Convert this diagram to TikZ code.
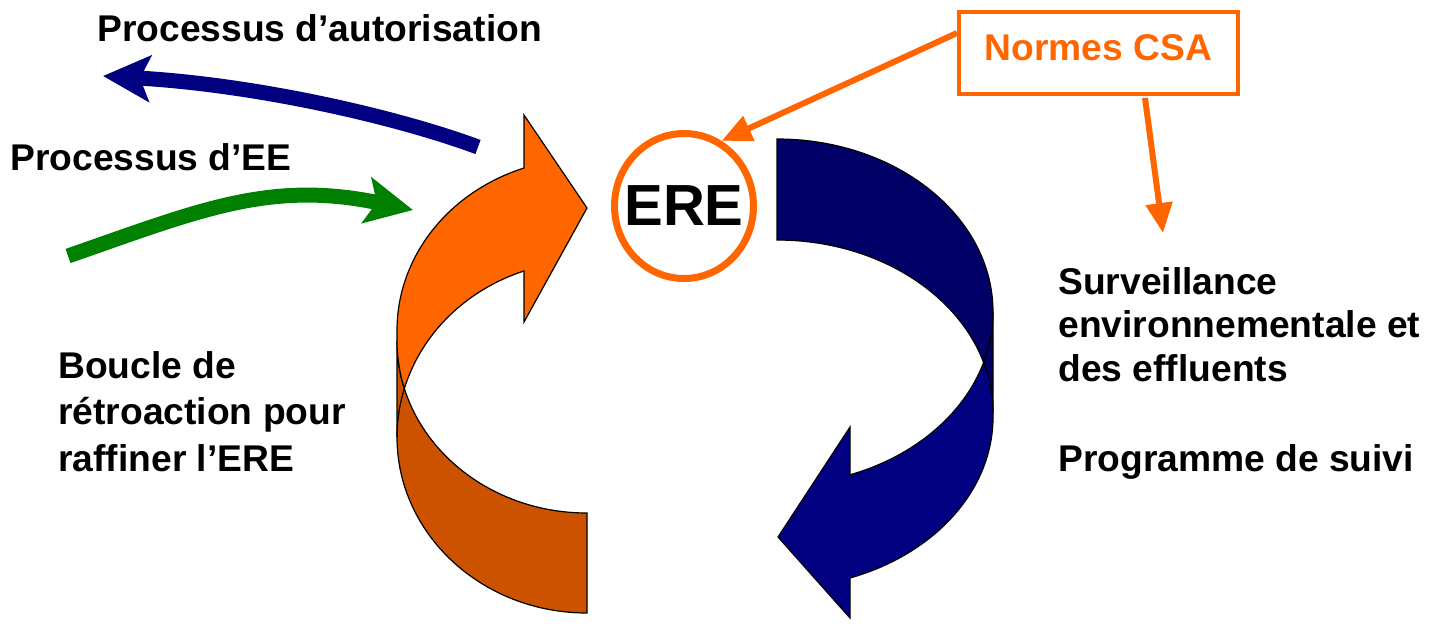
\documentclass[tikz,border=0pt]{standalone}
\usepackage{fontspec}
\setmainfont{Liberation Sans}
\usetikzlibrary{arrows.meta,shapes.geometric}
\definecolor{obright}{HTML}{FF6600}
\definecolor{odark}{HTML}{CC5200}
\definecolor{ndark}{HTML}{000066}
\definecolor{nlight}{HTML}{000080}
\definecolor{egreen}{HTML}{008000}
\begin{document}
\begin{tikzpicture}[x=0.5pt,y=0.5pt,
  lbl/.style={font=\fontsize{18.6pt}{21.75pt}\selectfont\bfseries, inner sep=0pt, anchor=base west, align=left},
  band/.style={draw=black, line width=0.6pt, line join=miter},
  thickarrow/.style={line width=7.5pt, -{Stealth[length=23.5pt,width=23pt,inset=5pt]}},
  csaarrow/.style={draw=obright, line width=3pt, -{Triangle[length=15pt,width=13pt]}}]
\useasboundingbox (0,0) rectangle (1439,-628);

% ---------- orange U-turn arrow (left) ----------
\coordinate (oc1) at (587,-330);
\coordinate (oc2) at (587,-437);
\coordinate (oc3) at (587,-341);
\filldraw[band, fill=odark] (587,-513)
  arc[start angle=270, end angle=180, x radius=190, y radius=172]
  -- (397,-437)
  arc[start angle=180, end angle=270, x radius=190, y radius=176]
  -- cycle;
\filldraw[band, fill=obright] (oc2) ++(163.99:190 and 176)
  arc[start angle=163.99, end angle=109.37, x radius=190, y radius=176]
  -- (524,-322) -- (587,-208) -- (524,-115) -- (524,-168)
  arc[start angle=109.37, end angle=180, x radius=190, y radius=172]
  -- (397,-341)
  arc[start angle=180, end angle=196.01, x radius=190, y radius=172]
  -- cycle;
\draw[band] (oc2) ++(163.99:190 and 176)
  arc[start angle=163.99, end angle=180, x radius=190, y radius=176];

% ---------- navy U-turn arrow (right) ----------
\coordinate (bc1) at (777,-312);
\filldraw[band, fill=ndark] (777,-240)
  arc[start angle=90, end angle=0, x radius=216, y radius=173]
  -- (993,-312)
  arc[start angle=0, end angle=90, x radius=216, y radius=173]
  -- cycle;
\filldraw[band, fill=nlight] (bc1) ++(-16.98:216 and 173)
  arc[start angle=-16.98, end angle=-70.25, x radius=216, y radius=173]
  -- (850,-427) -- (778,-537) -- (850,-618) -- (850,-578)
  arc[start angle=-70.25, end angle=0, x radius=216, y radius=171]
  -- (993,-413)
  arc[start angle=0, end angle=16.98, x radius=216, y radius=173]
  -- cycle;
\draw[band] (bc1) ++(-16.98:216 and 173)
  arc[start angle=-16.98, end angle=0, x radius=216, y radius=173];

% ---------- ERE circle and CSA box ----------
\node[draw=obright, line width=3.5pt, ellipse, minimum width=69.5pt, minimum height=72.5pt,
  inner sep=0pt, font=\fontsize{29pt}{34pt}\selectfont\bfseries] (ere) at (684,-206) {\makebox[0pt]{ERE}};
\node[draw=obright, line width=2pt, minimum width=139.5pt, minimum height=41pt, inner sep=0pt,
  text=obright, font=\fontsize{18.6pt}{21.25pt}\selectfont\bfseries,
  text height=11pt, text depth=3.5pt] (csa) at (1098.5,-53) {Normes CSA};

% ---------- labels ----------
\node[lbl] (tAuto) at (97,-41.5) {Processus d’autorisation};
\node[lbl] (tEE) at (10,-170) {Processus d’EE};
\node[lbl, font=\fontsize{18.6pt}{23.25pt}\selectfont\bfseries] (tBoucle) at (58,-471)
  {Boucle de\\rétroaction pour\\raffiner l’ERE};
\node[lbl] (tSurv) at (1058,-381) {Surveillance\\environnementale et\\des effluents};
\node[lbl] (tProg) at (1058,-471) {Programme de suivi};

% ---------- connectors ----------
\coordinate (csaL) at (957,-33);
\coordinate (csaB) at (1145,-98);
\coordinate (survT) at (1163,-233);
\draw[csaarrow] (csaL) -- (ere.60);
\draw[csaarrow] (csaB) -- (survT);

\coordinate (autS) at (478,-147);
\coordinate (autE) at (103,-76);
\draw[thickarrow, nlight] (autS) .. controls (400,-118) and (260,-85) .. (autE);

\coordinate (eeS) at (68,-256);
\coordinate (eeE) at (413,-210);
\draw[thickarrow, egreen] (eeS) .. controls (200,-210) and (270,-180) .. (eeE);
\end{tikzpicture}
\end{document}
